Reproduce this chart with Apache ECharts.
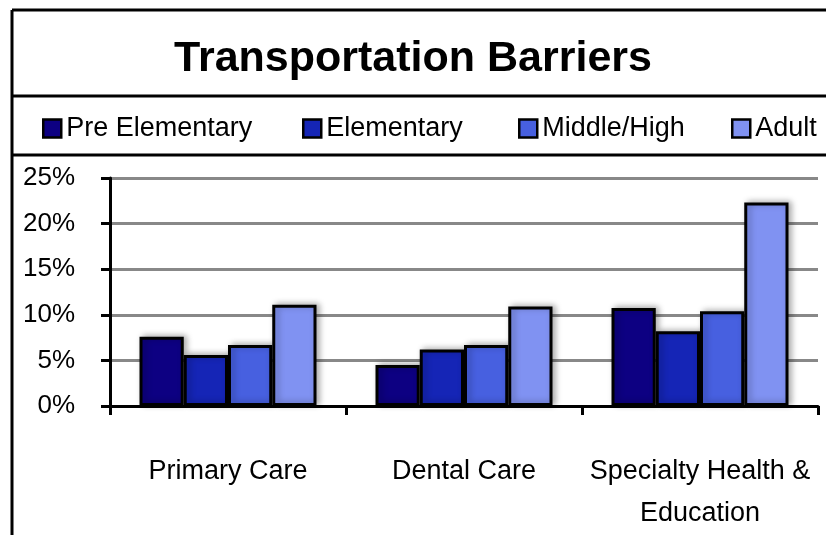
<!DOCTYPE html>
<html>
<head>
<meta charset="utf-8">
<script src="https://cdn.jsdelivr.net/npm/echarts@6/dist/echarts.min.js"></script>
<style>
html,body{margin:0;padding:0;background:#fff;}
#chart{width:826px;height:535px;}
</style>
</head>
<body>
<div id="chart"></div>
<script>
const categories = ['Primary Care', 'Dental Care', 'Specialty Health &\nEducation'];
const seriesNames = ['Pre Elementary', 'Elementary', 'Middle/High', 'Adult'];
const preElementary = [0.076, 0.045, 0.1075];
const elementary = [0.056, 0.062, 0.082];
const middleHigh = [0.067, 0.067, 0.104];
const adult = [0.111, 0.109, 0.223];
const colors = ['#0d0082', '#1525b6', '#4760e0', '#8092f2'];
const legendLefts = [42, 302, 518, 731];

const FONT = '"Liberation Sans", Arial, sans-serif';
const values = [preElementary, elementary, middleHigh, adult];

const chart = echarts.init(document.getElementById('chart'));
chart.setOption({
  animation: false,
  backgroundColor: '#fff',
  textStyle: { fontFamily: FONT },
  title: {
    text: 'Transportation Barriers',
    left: 'center',
    top: 33,
    textStyle: { fontFamily: FONT, fontSize: 43, fontWeight: 'bold', color: '#000' }
  },
  legend: seriesNames.map((n, i) => ({
    left: legendLefts[i],
    top: 115,
    padding: 0,
    itemWidth: 18,
    itemHeight: 18,
    icon: 'rect',
    data: [{ name: n, itemStyle: { color: colors[i], borderColor: '#000', borderWidth: 2.5 } }],
    textStyle: { fontFamily: FONT, fontSize: 27, color: '#000' }
  })),
  grid: { left: 110, right: 8, top: 178, bottom: 124, containLabel: false },
  xAxis: {
    type: 'category',
    data: categories,
    axisLine: { lineStyle: { color: '#000', width: 3 } },
    axisTick: { show: true, length: 9, lineStyle: { color: '#000', width: 3 } },
    axisLabel: { fontFamily: FONT, fontSize: 27, color: '#000', margin: 45, lineHeight: 42, interval: 0 }
  },
  yAxis: {
    type: 'value',
    min: 0,
    max: 0.25,
    interval: 0.05,
    axisLine: { show: true, lineStyle: { color: '#000', width: 3 } },
    axisTick: { show: true, length: 9, lineStyle: { color: '#000', width: 3 } },
    axisLabel: {
      fontFamily: FONT, fontSize: 26, color: '#000', margin: 35,
      formatter: v => Math.round(v * 100) + '%'
    },
    splitLine: { show: true, lineStyle: { color: '#888', width: 3 } }
  },
  graphic: [
    { type: 'line', shape: { x1: 12, y1: 10, x2: 12, y2: 535 }, style: { stroke: '#000', lineWidth: 3 }, z: 100 },
    { type: 'line', shape: { x1: 12, y1: 10, x2: 826, y2: 10 }, style: { stroke: '#000', lineWidth: 3 }, z: 100 },
    { type: 'line', shape: { x1: 12, y1: 96, x2: 826, y2: 96 }, style: { stroke: '#000', lineWidth: 3 }, z: 100 },
    { type: 'line', shape: { x1: 12, y1: 155, x2: 826, y2: 155 }, style: { stroke: '#000', lineWidth: 3 }, z: 100 }
  ],
  series: seriesNames.map((n, i) => ({
    name: n,
    type: 'bar',
    data: values[i],
    barGap: '0%',
    barCategoryGap: '25%',
    itemStyle: {
      color: colors[i],
      borderColor: '#000',
      borderWidth: 3,
      shadowColor: 'rgba(0,0,0,0.3)',
      shadowBlur: 6,
      shadowOffsetX: 3,
      shadowOffsetY: -1
    }
  }))
});
</script>
</body>
</html>
